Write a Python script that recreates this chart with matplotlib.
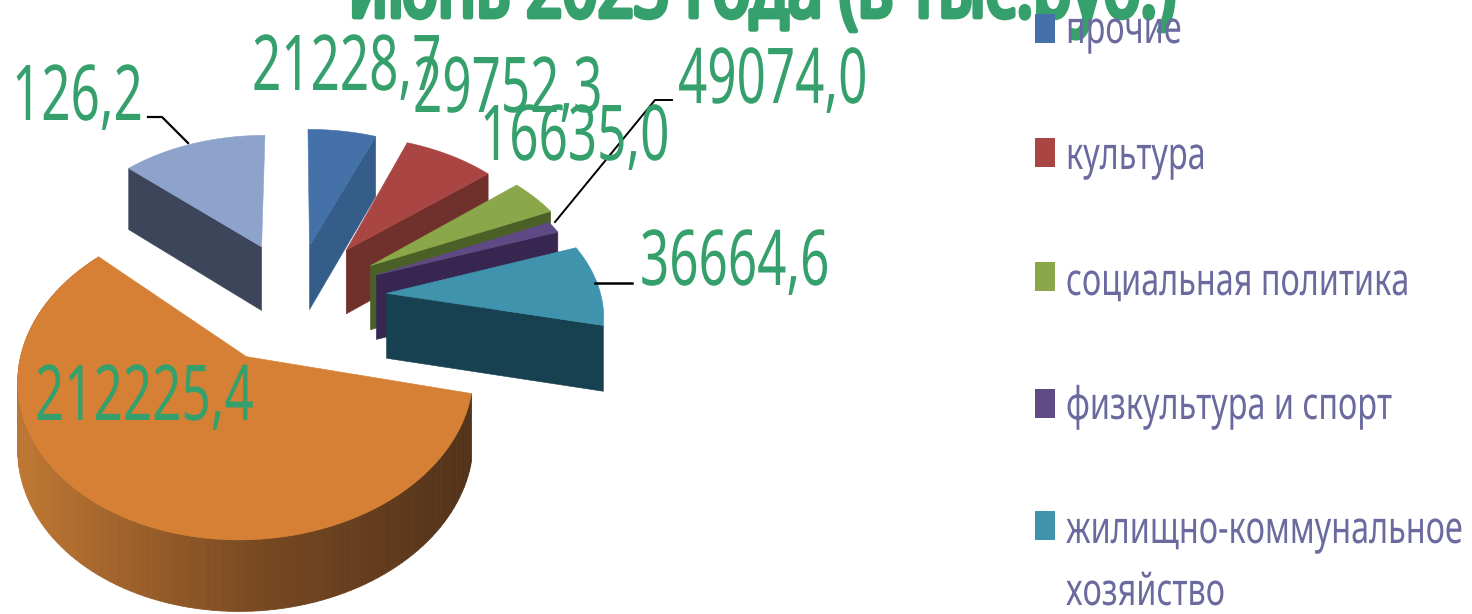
import numpy as np
import matplotlib
matplotlib.use("Agg")
import matplotlib.pyplot as plt
from matplotlib.patches import Polygon, Rectangle
from matplotlib.patheffects import AbstractPathEffect
from matplotlib.transforms import Affine2D

# ---- data ----
title_text = "июнь 2023 года (в тыс.руб.)"
categories = ["прочие", "культура", "социальная политика", "физкультура и спорт",
              "жилищно-коммунальное\nхозяйство", "жилищное строительство", "образование"]
value_labels = ["21228,7", "29752,3", "16635,0", "49074,0", "36664,6", "212225,4", "126,2"]
# drawn slice sweep in degrees, clockwise from the top (as seen on the picture)
slice_sweeps = [21, 29, 15, 5, 33, 210, 47]
explosions = [0.38, 0.42, 0.42, 0.41, 0.42, 0.45, 0.40]
radii = [1.0, 0.97, 1.0, 0.95, 0.98, 0.98, 0.95]
y_stretch = [1.0, 1.0, 1.0, 1.0, 1.0, 1.03, 1.0]
legend_count = 5

top_colors = ["#4472a8", "#a94542", "#8aa84a", "#5f4a85", "#3f93ad", "#d68035", "#8ea3cc"]
side_colors = ["#345d8a", "#70302c", "#4a6027", "#372750", "#174050", "#8a5526", "#3c4559"]
GREEN = "#35a06b"
LEGEND_TEXT = "#6a6a9f"
FONT = "Noto Sans"

# ---- projection of the pie disc on to the pixel canvas ----
CX, CY, RX, RY, K, DEPTH = 295.0, 297.0, 219.0, 142.7, 0.1234, 65.0


def project(u, v, lowered=False):
    w = 1 + K * v
    x = CX + RX * u / w
    y = CY - RY * v / w
    if lowered:
        y = y + DEPTH / np.sqrt(w)
    return x, y


class Squeeze(AbstractPathEffect):
    """Narrows a text horizontally about its left edge, as in the stretched original."""

    def __init__(self, x0, sx, stroke=0.0):
        super().__init__()
        self.x0, self.sx, self.stroke = x0, sx, stroke

    def draw_path(self, renderer, gc, tpath, affine, rgbFace=None):
        aff = affine + Affine2D().translate(-self.x0, 0).scale(self.sx, 1).translate(self.x0, 0)
        if self.stroke > 0 and rgbFace is not None:
            gc0 = renderer.new_gc()
            gc0.copy_properties(gc)
            gc0.set_linewidth(self.stroke)
            gc0.set_foreground(rgbFace)
            renderer.draw_path(gc0, tpath, aff, rgbFace)
            gc0.restore()
        else:
            renderer.draw_path(gc, tpath, aff, rgbFace)


fig = plt.figure(figsize=(14.72, 6.14), dpi=100)
ax = fig.add_axes([0, 0, 1, 1])
ax.set_xlim(0, 1472)
ax.set_ylim(614, 0)
ax.axis("off")


def put_text(x, y, s, px, sx, color, weight="normal", z=10, stroke=0.0):
    ax.text(x, y, s, fontsize=px * 0.72, color=color, family=FONT, weight=weight,
            ha="left", va="baseline", zorder=z, linespacing=1.0,
            path_effects=[Squeeze(x, sx, stroke)])


# ---- title, clipped at the top as in the reference ----
put_text(349, 17, title_text, 88, 0.71, GREEN, weight="bold", z=1, stroke=3.5)

# ---- slices ----
edges = 90 - np.concatenate([[0], np.cumsum(slice_sweeps)])
draw_order = [6, 0, 1, 2, 3, 4, 5]
for z, i in enumerate(draw_order):
    a0, a1 = edges[i], edges[i + 1]  # a0 > a1 clockwise
    mid = np.radians((a0 + a1) / 2)
    ou, ov = explosions[i] * np.cos(mid), explosions[i] * np.sin(mid)
    t = np.radians(np.linspace(a0, a1, 120))
    au, av = ou + radii[i] * np.cos(t), ov + radii[i] * y_stretch[i] * np.sin(t)
    zz = 3 + z

    if i == 5:
        # curved outer wall with a horizontal light gradient
        xt, yt = project(au, av)
        xb, yb = project(au, av, lowered=True)
        c0 = np.array(matplotlib.colors.to_rgb("#bd7632"))
        c1 = np.array(matplotlib.colors.to_rgb("#7a4a22"))
        c2 = np.array(matplotlib.colors.to_rgb("#51321a"))
        for j in range(len(t) - 1):
            frac = np.clip((0.5 * (xt[j] + xt[j + 1]) - 25) / 450, 0, 1)
            col = c0 + (c1 - c0) * frac * 2 if frac < 0.5 else c1 + (c2 - c1) * (frac - 0.5) * 2
            ax.add_patch(Polygon([(xt[j], yt[j]), (xt[j + 1], yt[j + 1]),
                                  (xb[j + 1], yb[j + 1]), (xb[j], yb[j])],
                                 closed=True, fc=col, ec=col, lw=0.6, zorder=zz))
    else:
        # flat cut face: the right one for slices right of centre, the left for the last
        cut = a1 if i != 6 else a0
        cu = ou + radii[i] * np.cos(np.radians(cut))
        cv = ov + radii[i] * np.sin(np.radians(cut))
        p = [project(ou, ov), project(cu, cv),
             project(cu, cv, lowered=True), project(ou, ov, lowered=True)]
        ax.add_patch(Polygon(p, closed=True, fc=side_colors[i], ec=side_colors[i], lw=0.4, zorder=zz))

    x, y = project(np.r_[ou, au], np.r_[ov, av])
    ax.add_patch(Polygon(np.c_[x, y], closed=True, fc=top_colors[i], ec=top_colors[i],
                         lw=0.4, zorder=zz))

# ---- leader lines ----
ax.plot([148, 162, 188], [117, 117, 143], color="black", lw=1.6, zorder=9)
ax.plot([555, 655, 672], [222, 100, 100], color="black", lw=1.4, zorder=9)
ax.plot([595, 632], [283, 283], color="black", lw=1.8, zorder=9)

# ---- value labels ----
label_x = [252, 413, 480, 678, 640, 35, 12]
label_y = [90, 112, 160, 103, 285, 420, 120]
for s, x, y in zip(value_labels, label_x, label_y):
    put_text(x, y, s, 77, 0.665, GREEN)

# ---- legend ----
legend_y = [14, 138, 262, 389, 511]
legend_base = [43, 169, 295, 419, 543]
for i in range(legend_count):
    ax.add_patch(Rectangle((1035, legend_y[i]), 20, 29, fc=top_colors[i], ec="none", zorder=8))
    parts = categories[i].split("\n")
    for k, part in enumerate(parts):
        put_text(1066, legend_base[i] + k * 62, part, 45, 0.72, LEGEND_TEXT)

fig.savefig("out.png", dpi=100)
